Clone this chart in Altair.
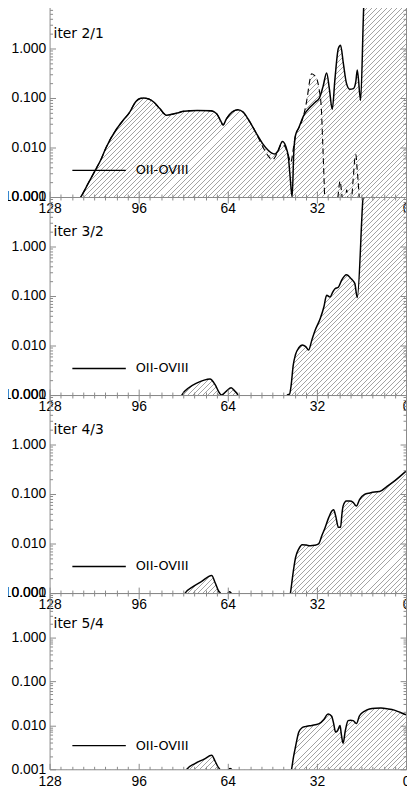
import math
import altair as alt
import pandas as pd

# ---------------- data ----------------
panel_labels = ["iter 2/1", "iter 3/2", "iter 4/3", "iter 5/4"]
legend_label = "OII-OVIII"

x_major = [128, 96, 64, 32, 0]
x_minor = list(range(0, 129, 4))
y_major = [0.001, 0.01, 0.1, 1.0, 10.0]
y_minor = [round(m * 10.0 ** e, 6) for e in range(-3, 1) for m in range(1, 10)] + [10.0]

p1_x = [128, 120, 116.8, 114, 111.8, 109.5, 107.7, 104, 101.5, 99.4, 97, 95.5, 94.3, 92.5, 90.5,
        88.5, 86, 84, 82, 79.8, 75, 70, 68, 66.5, 65.7, 64.5, 62.5, 60.4, 58.5, 56.5, 53.9, 51.5,
        49.5, 48, 47, 46, 44.4, 43.3, 42.2, 41.6, 40.9, 40.3, 39.7, 38.5, 36.8, 34.5, 32.6, 31.1,
        29.8, 28.5, 27.5, 26.5, 25.5, 24.3, 23.5, 22.5, 21.4, 20.2, 18.9, 18.0, 17.5, 16.3, 15.1,
        14.5, 12, 0]
p1_v = [0.0005, 0.0006, 0.001, 0.00195, 0.0033, 0.0058, 0.01, 0.0234, 0.036, 0.05, 0.085, 0.098,
        0.1, 0.096, 0.082, 0.062, 0.045, 0.047, 0.05, 0.054, 0.056, 0.055, 0.048, 0.034, 0.0285,
        0.038, 0.052, 0.058, 0.052, 0.036, 0.020, 0.012, 0.0088, 0.0076, 0.0074, 0.0085, 0.0133,
        0.011, 0.006, 0.0025, 0.001, 0.008, 0.0175, 0.025, 0.0436, 0.065, 0.082, 0.1, 0.17, 0.32,
        0.15, 0.059, 0.25, 1.0, 1.16, 0.5, 0.20, 0.15, 0.155, 0.22, 0.37, 0.09, 9.1, 20, 40, 40]

# dashed curve of panel 1: identical to the solid one for x >= 53.9, then this tail
p1d_tail_x = [51.5, 49.5, 48, 46.5, 44.6, 43.5, 42.3, 41.4, 40.3, 39.7, 38.5, 36.8, 35.5, 34.6,
              33.9, 33, 32, 31.2, 30.4, 29.9, 29.4, 29.0, 25, 24.3, 23.7, 23.1, 22.5, 21.8, 21.3,
              20.7, 19.8, 19.0, 18.3, 18.0, 17.6, 16.9, 16.5, 0]
p1d_tail_v = [0.0105, 0.0068, 0.0056, 0.0072, 0.0118, 0.0105, 0.0072, 0.005, 0.011, 0.0175, 0.025,
              0.044, 0.1, 0.22, 0.31, 0.29, 0.24, 0.15, 0.06, 0.012, 0.002, 0.0005, 0.0005, 0.0012,
              0.0021, 0.0012, 0.0006, 0.0008, 0.0014, 0.0008, 0.0007, 0.0022, 0.0065, 0.0072,
              0.004, 0.0012, 0.0005, 0.0005]

p2_x = [128, 82, 80.5, 78, 75.2, 72.5, 70.4, 68.5, 67, 66.3, 64.5, 62.8, 61.5, 60.4, 59.5, 44,
        42.6, 41.8, 41.3, 40.5, 39.7, 38.5, 37.3, 36, 35.0, 33.8, 32.6, 30.8, 29.5, 28.5, 27.3,
        26.3, 25.5, 24.3, 23.1, 21.4, 19.6, 18.4, 17.5, 15.5, 14.8, 0]
p2_v = [0.0005, 0.0005, 0.001, 0.0014, 0.00174, 0.002, 0.0021, 0.0016, 0.0011, 0.001, 0.0012,
        0.0014, 0.0012, 0.001, 0.0005, 0.0005, 0.001, 0.00105, 0.0015, 0.004, 0.0065, 0.009,
        0.0103, 0.0095, 0.0081, 0.013, 0.0206, 0.035, 0.06, 0.104, 0.095, 0.12, 0.14, 0.15, 0.21,
        0.27, 0.22, 0.18, 0.093, 9, 30, 30]

p3_x = [128, 81, 79.3, 76.9, 73.5, 69.8, 68.5, 67.3, 66.7, 66, 64.4, 63.4, 62.4, 61.8, 43, 41.5,
        40.8, 40.2, 39.7, 38.5, 37.3, 35.8, 34.4, 32.8, 31.4, 30.2, 29.1, 27.8, 26.7, 26.0, 25.2,
        24.3, 23.5, 23.0, 22.6, 21.4, 20.2, 19.0, 17.8, 16.7, 14.9, 13, 11.3, 9.5, 7, 4.2, 0]
p3_v = [0.0005, 0.0005, 0.001, 0.0013, 0.0017, 0.00226, 0.0016, 0.0011, 0.001, 0.0005, 0.0009,
        0.00106, 0.0009, 0.0005, 0.0005, 0.001, 0.002, 0.0035, 0.0051, 0.0078, 0.0095, 0.0093,
        0.009, 0.0092, 0.0098, 0.0145, 0.0207, 0.033, 0.045, 0.048, 0.035, 0.0214, 0.0214, 0.04,
        0.057, 0.072, 0.072, 0.068, 0.057, 0.077, 0.098, 0.105, 0.11, 0.112, 0.14, 0.182, 0.29]

p4_x = [128, 80.5, 78.7, 75.8, 72.5, 69.8, 68.5, 67.4, 66.9, 66.2, 64.2, 63.2, 62.2, 61.6, 42.8,
        41.1, 40.4, 39.7, 38.5, 37.3, 36.2, 33.8, 31.4, 29.5, 28.3, 27.9, 26.7, 26.0, 25.3, 24.6,
        23.7, 23.2, 22.6, 21.8, 20.8, 19.9, 19.0, 17.8, 16.7, 14.8, 13.1, 11, 9.0, 6.5, 4.2, 2, 0]
p4_v = [0.0005, 0.0005, 0.001, 0.00135, 0.0017, 0.00207, 0.0015, 0.0011, 0.001, 0.0005, 0.0009,
        0.00104, 0.0009, 0.0005, 0.0005, 0.001, 0.0019, 0.0032, 0.007, 0.0088, 0.0093, 0.0099,
        0.0107, 0.0135, 0.0175, 0.018, 0.016, 0.011, 0.007, 0.0075, 0.0098, 0.006, 0.0039,
        0.0075, 0.0127, 0.013, 0.0127, 0.0109, 0.0164, 0.021, 0.0233, 0.0243, 0.0245, 0.0235,
        0.022, 0.0195, 0.0173]

# ---------------- style / layout ----------------
W = 360
H = [200, 200, 200, 178]
XMAX = 128
FRAME = "#8a8a8a"
FONT = "Liberation Sans"
TFONT = "DejaVu Sans"
HATCH = "#a3a3a3"
CLEAR = "rgba(255,255,255,0)"
PERIOD = 5.0
LINEW = 1.0


def hatch_fill(xs, vs, h):
    """45-degree line fill drawn as a striped linear gradient over the area's bounding box."""
    px = [W * (XMAX - x) / XMAX for x in xs]
    py = [h * (1.0 - math.log10(v)) / 4.0 for v in vs]
    x0, x1 = min(px), max(px)
    y0, y1 = min(min(py), h), max(max(py), h)
    bw, bh = x1 - x0, y1 - y0
    tot = bw + bh
    k = tot / (bw * bw + bh * bh)
    stops = [{"offset": 0.0, "color": CLEAR}]
    s = ((-(x0 + y0)) % PERIOD) - 0.5 - PERIOD
    while s < tot:
        a = round(min(max(s, 0.0), tot) / tot, 6)
        b = round(min(max(s + LINEW, 0.0), tot) / tot, 6)
        if b > a:
            stops += [{"offset": a, "color": CLEAR}, {"offset": a, "color": HATCH},
                      {"offset": b, "color": HATCH}, {"offset": b, "color": CLEAR}]
        s += PERIOD
    stops.append({"offset": 1.0, "color": CLEAR})
    return {"gradient": "linear", "x1": 0, "y1": 0,
            "x2": round(k * bw, 6), "y2": round(k * bh, 6), "stops": stops}


def ax(**kw):
    base = dict(grid=False, title=None, zindex=1, domainColor=FRAME, domainWidth=1,
                tickColor=FRAME, tickWidth=1, labelFont=FONT, labelFontSize=14,
                labelColor="black")
    base.update(kw)
    return alt.Axis(**base)


TS_X = {"condition": {"test": "datum.value % 32 == 0", "value": 6}, "value": 3}
TS_Y = {"condition": {"test": "abs(log(datum.value) / LN10 - round(log(datum.value) / LN10)) < 0.01",
                      "value": 6}, "value": 3}


def make_panel(i, xs, vs, dxs=None, dvs=None):
    h = H[i]
    xsc = alt.Scale(domain=[XMAX, 0], nice=False, zero=False)
    ysc = alt.Scale(type="log", domain=[0.001, 10], nice=False)
    df = pd.DataFrame({"x": xs, "v": vs})

    def enc(xaxis, yaxis):
        return dict(x=alt.X("x:Q", scale=xsc, axis=xaxis),
                    y=alt.Y("v:Q", scale=ysc, axis=yaxis, stack=False))

    encA = enc(ax(orient="bottom", values=x_major, ticks=False, labelPadding=5,
                  labelFlush=False, labelOverlap=False, format="d"),
               ax(orient="left", values=y_major, ticks=False, labelPadding=4,
                  labelOverlap=False, format=".3f"))
    encB = enc(ax(orient="top", offset=-h, values=x_minor, labels=False, domain=False,
                  tickSize=TS_X),
               ax(orient="right", offset=-W, values=y_minor, labels=False, domain=False,
                  tickSize=TS_Y))
    encC = enc(ax(orient="bottom", offset=-h, values=x_minor, labels=False, tickSize=TS_X),
               ax(orient="left", offset=-W, values=y_minor, labels=False, tickSize=TS_Y))
    encN = enc(None, None)

    layers = [alt.Chart(df).mark_area(clip=True, interpolate="monotone",
                                      fill=hatch_fill(xs, vs, h), strokeWidth=0)
              .encode(y2=alt.value(h), **encA)]
    if dxs is not None:
        ddf = pd.DataFrame({"x": dxs, "v": dvs})
        layers.append(alt.Chart(ddf).mark_area(clip=True, interpolate="monotone",
                                               fill=hatch_fill(dxs, dvs, h), strokeWidth=0)
                      .encode(y2=alt.value(h), **encN))
        layers.append(alt.Chart(ddf).mark_line(clip=True, interpolate="monotone", color="black",
                                               strokeWidth=1.1, strokeDash=[6, 4])
                      .encode(**encC))
    else:
        layers.append(alt.Chart(df).mark_line(clip=True, interpolate="monotone", opacity=0)
                      .encode(**encC))
    layers.append(alt.Chart(df).mark_line(clip=True, interpolate="monotone", color="black",
                                          strokeWidth=1.5).encode(**encB))

    ly = round(0.866 * h, 1)
    leg = pd.DataFrame({"label": [legend_label]})
    layers.append(alt.Chart(leg).mark_rule(color="black", strokeWidth=1.3)
                  .encode(x=alt.value(23), x2=alt.value(77), y=alt.value(ly)))
    layers.append(alt.Chart(leg).mark_text(align="left", baseline="middle", font=TFONT,
                                           fontSize=13, color="black")
                  .encode(x=alt.value(87), y=alt.value(ly), text="label:N"))
    tl = pd.DataFrame({"label": [panel_labels[i]]})
    layers.append(alt.Chart(tl).mark_text(align="left", baseline="middle", font=TFONT,
                                          fontSize=14, color="black")
                  .encode(x=alt.value(4), y=alt.value(round(0.175 * h, 1)), text="label:N"))

    return (alt.layer(*layers)
            .resolve_scale(x="independent", y="independent")
            .properties(width=W, height=h))


p1d_x = [x for x in p1_x if x >= 53.9] + p1d_tail_x
p1d_v = [v for x, v in zip(p1_x, p1_v) if x >= 53.9] + p1d_tail_v

panels = [
    make_panel(0, p1_x, p1_v, p1d_x, p1d_v),
    make_panel(1, p2_x, p2_v),
    make_panel(2, p3_x, p3_v),
    make_panel(3, p4_x, p4_v),
]

chart = (alt.vconcat(*panels, spacing=0, bounds="flush")
         .properties(padding={"left": -5, "top": -20, "right": -3, "bottom": -5},
                     background="white")
         .configure_view(strokeWidth=0))

chart.save("out.html", embed_options={"renderer": "svg", "actions": False})
